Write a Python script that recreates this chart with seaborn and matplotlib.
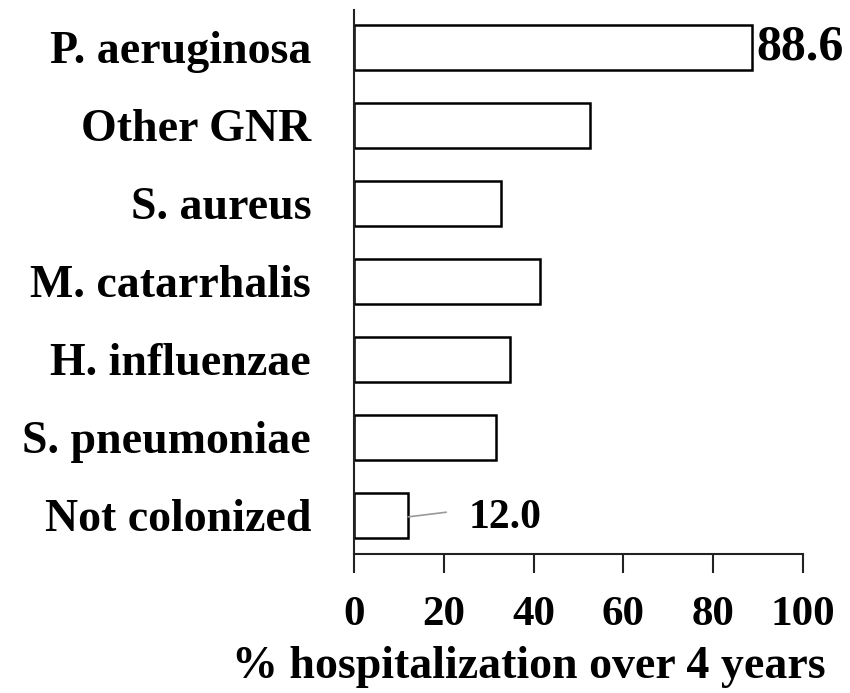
import seaborn as sns
import matplotlib.pyplot as plt
import pandas as pd

# data
organisms = ['P. aeruginosa', 'Other GNR', 'S. aureus', 'M. catarrhalis',
             'H. influenzae', 'S. pneumoniae', 'Not colonized']
hosp_pct = [88.6, 52.6, 32.8, 41.4, 34.7, 31.5, 12.0]
xticks = [0, 20, 40, 60, 80, 100]

df = pd.DataFrame({'organism': organisms, 'pct': hosp_pct})

sns.set_style('white')
plt.rcParams['font.family'] = ['Liberation Serif', 'DejaVu Serif']
plt.rcParams['font.weight'] = 'bold'
plt.rcParams['text.color'] = 'black'
plt.rcParams['xtick.color'] = 'black'
plt.rcParams['ytick.color'] = 'black'

fig = plt.figure(figsize=(8.5, 6.93), dpi=100)
ax = fig.add_axes([0.4168, 0.2001, 0.5276, 0.7855])

sns.barplot(data=df, x='pct', y='organism', orient='h', ax=ax,
            color='white', edgecolor='black', linewidth=1.8, width=0.57)

ax.set_xlim(0, 100)
ax.set_ylim(len(organisms) - 0.5, -0.48)
ax.set_xticks(xticks)
ax.set_xticklabels([str(t) for t in xticks], fontsize=31, fontweight='bold')
ax.set_yticks(range(len(organisms)))
ax.set_yticklabels(organisms, fontsize=33, fontweight='bold')
ax.tick_params(axis='x', bottom=True, direction='out', length=14, width=1.5,
               color='#222222', pad=16)
ax.tick_params(axis='y', left=False, length=0, pad=31)

sns.despine(ax=ax, top=True, right=True)
for side in ['left', 'bottom']:
    ax.spines[side].set_color('#222222')
    ax.spines[side].set_linewidth(1.5)

ax.set_ylabel('')
ax.set_xlabel('% hospitalization over 4 years', fontsize=33, fontweight='bold',
              color='black')
ax.xaxis.set_label_coords(0.39, -0.228)
ax.xaxis.label.set_va('baseline')

# value labels
top = hosp_pct[0]
ax.text(top + 1.0, 0, f'{top:.1f}', fontsize=36, fontweight='bold',
        ha='left', va='center')
low_i = len(hosp_pct) - 1
low = hosp_pct[low_i]
ax.plot([low, low + 8.5], [low_i + 0.02, low_i - 0.04], color='#999999', lw=1.2)
ax.text(low + 13.5, low_i + 0.04, f'{low:.1f}', fontsize=30, fontweight='bold',
        ha='left', va='center')

fig.savefig('out.png', dpi=100)
